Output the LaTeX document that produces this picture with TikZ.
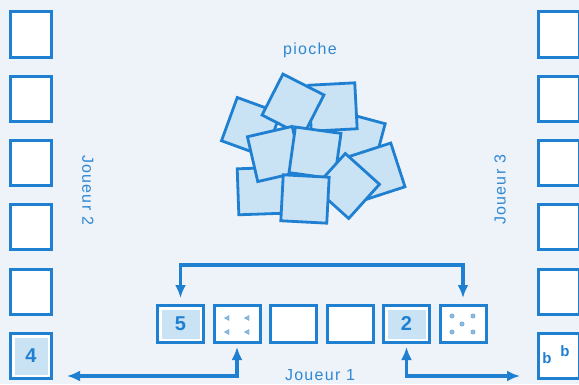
\documentclass[tikz,border=0pt]{standalone}
\usepackage{fontspec}
\setmainfont{Liberation Sans}
\newfontfamily\labelfont[LetterSpace=8]{Liberation Sans}
\usetikzlibrary{arrows.meta,positioning}
\definecolor{PaperBlue}{HTML}{EEF3F9}
\definecolor{InkBlue}{HTML}{1F80D2}
\definecolor{TileBlue}{HTML}{C9E2F4}
\definecolor{LabelBlue}{HTML}{2F88D2}
\definecolor{PipBlue}{HTML}{8DBBE0}

\begin{document}
\begin{tikzpicture}[x=1pt,y=1pt,
    card/.style={draw=InkBlue,line width=3pt,fill=white,inner sep=0pt},
    sidecard/.style={card,minimum width=41pt,minimum height=45pt},
    rowcard/.style={card,minimum width=46pt,minimum height=37pt},
    numcard/.style={font=\fontsize{20}{20}\selectfont\bfseries,text=InkBlue,
        path picture={\fill[TileBlue] ([shift={(4pt,4pt)}]path picture bounding box.south west)
          rectangle ([shift={(-4pt,-4pt)}]path picture bounding box.north east);}},
    heap/.style={draw=InkBlue,line width=2.8pt,fill=TileBlue,minimum size=46pt,inner sep=0pt},
    lbl/.style={text=LabelBlue,font=\labelfont\fontsize{16}{18}\selectfont},
    arr/.style={{Latex[length=13pt,width=11pt]}-{Latex[length=13pt,width=11pt]},line width=3.2pt,InkBlue},
    pip/.style={fill=PipBlue,draw=PipBlue!60!InkBlue,line width=.4pt}]
    \fill[PaperBlue] (0,0) rectangle (579,384);
    \useasboundingbox (0,0) rectangle (579,384);
    \clip (0,0) rectangle (579,384);
    % side columns
    \foreach \i in {1,...,5} {
      \node[sidecard] (p2-\i) at (31,{349.5-64.3*(\i-1)}) {};
      \node[sidecard] (p3-\i) at (559,{349.5-64.3*(\i-1)}) {};
    }
    \node[sidecard,numcard] (p2-6) at (31,28) {4};
    \node[sidecard] (p3-6) at (559,28) {};
    \node[text=InkBlue,font=\fontsize{15}{15}\selectfont\bfseries] (b-low) at ([shift={(-12pt,-2pt)}]p3-6.center) {b};
    \node[text=InkBlue,font=\fontsize{15}{15}\selectfont\bfseries] (b-high) at ([shift={(6pt,5pt)}]p3-6.center) {b};
    % row of player 1
    \node[rowcard,numcard] (t1) at (180.5,60) {5};
    \node[rowcard,right=7.5pt of t1] (t2) {};
    \node[rowcard,right=7.5pt of t2] (t3) {};
    \node[rowcard,right=7.5pt of t3] (t4) {};
    \node[rowcard,numcard,right=7.5pt of t4] (t5) {2};
    \node[rowcard,right=7.5pt of t5] (t6) {};
    \foreach \dx/\dy in {-10/6,10/6,-10/-8,10/-8}
      \fill[pip] ([shift={(\dx pt,\dy pt)}]t2.center) ++(2,-2.5) -- ++(0,5) -- ++(-4.5,-2.5) -- cycle;
    \foreach \dx/\dy in {-11/8,10/8,-1/0,-11/-8,10/-8}
      \filldraw[pip] ([shift={(\dx pt,\dy pt)}]t6.center) circle (2.2);
    % pioche
    \foreach \name/\x/\y/\r in {d/357/244/-15,c/333/277/3,a/251/257/-20,b/293/279/-27,
        i/261/193/2,e/275/230/13,f/315/231/-8,g/376/212/18,h/347/198/-42,j/305/185/-3}
      \node[heap,rotate=\r] (tile-\name) at (\x,\y) {};
    \node[lbl] (pioche) at (310,334) {pioche};
    \node[lbl] (joueur1) at (320,9) {Joueur 1};
    \node[lbl,rotate=-90] (joueur2) at (88,194) {Joueur 2};
    \node[lbl,rotate=90] (joueur3) at (500,194) {Joueur 3};
    % arrows
    \coordinate (west-end) at (67,8);
    \coordinate (east-end) at (520,8);
    \draw[arr,shorten <=6pt,shorten >=6pt] (t1.north) -- ++(0,39) -| (t6.north);
    \draw[arr,shorten <=3pt] (t2.south) |- (west-end);
    \draw[arr,shorten <=3pt] (t5.south) |- (east-end);
\end{tikzpicture}
\end{document}
